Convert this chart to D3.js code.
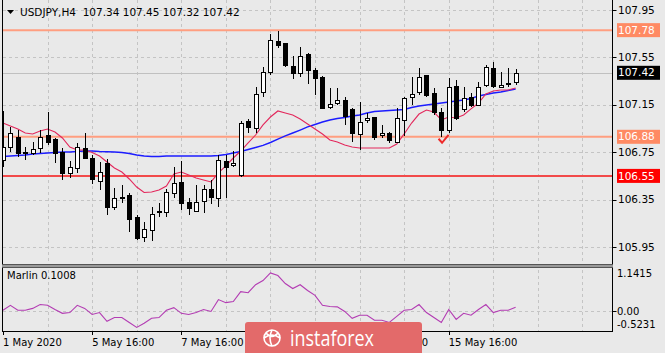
<!DOCTYPE html>
<html>
<head>
<meta charset="utf-8">
<script src="https://cdn.jsdelivr.net/npm/d3@7"></script>
<style>
  body { margin: 0; background: #e9e9e9; }
  svg { display: block; font-family: "DejaVu Sans", sans-serif; }
</style>
</head>
<body>
<svg id="chart" width="665" height="353"></svg>
<script>
// H4 bars, index 0 = 1 May 16:00
var opens = [
  106.684,106.794,106.879,106.752,106.743,106.786,106.895,106.861,106.752,106.575,
  106.617,106.786,106.701,106.507,106.659,106.288,106.364,106.389,106.203,106.035,
  106.094,106.245,106.245,106.406,106.499,106.330,106.254,106.338,106.439,106.364,
  106.676,106.642,106.558,107.013,106.954,107.258,107.427,107.688,107.672,107.477,
  107.418,107.579,107.444,107.385,107.131,107.165,107.191,107.115,106.904,107.022,
  107.047,106.895,106.912,106.836,107.022,107.216,107.258,107.401,107.250,107.089,
  106.937,107.309,107.115,107.216,107.148,107.317,107.461,107.300,107.334,107.340];
var highs = [
  107.098,106.963,106.937,106.794,106.836,106.937,107.089,106.870,106.786,106.676,
  106.828,106.912,106.726,106.667,106.693,106.448,106.473,106.406,106.220,106.161,
  106.288,106.321,106.439,106.625,106.676,106.364,106.473,106.473,106.516,106.726,
  106.726,106.760,107.013,107.030,107.300,107.469,107.747,107.773,107.672,107.562,
  107.638,107.587,107.461,107.390,107.292,107.292,107.216,107.123,107.174,107.081,
  107.050,106.980,106.920,107.123,107.216,107.385,107.461,107.405,107.292,107.123,
  107.376,107.359,107.300,107.250,107.342,107.486,107.511,107.427,107.461,107.450];
var lows = [
  106.625,106.752,106.710,106.684,106.726,106.743,106.811,106.659,106.516,106.532,
  106.575,106.701,106.482,106.431,106.220,106.262,106.321,106.077,106.010,105.992,
  106.001,106.203,106.203,106.364,106.262,106.220,106.245,106.237,106.313,106.288,
  106.364,106.625,106.541,106.912,106.912,107.216,107.401,107.629,107.469,107.368,
  107.385,107.326,107.233,107.120,107.115,107.148,106.980,106.836,106.769,106.996,
  106.853,106.870,106.828,106.828,106.887,107.148,107.233,107.216,107.064,106.879,
  106.912,107.022,107.089,107.131,107.140,107.300,107.292,107.292,107.300,107.320];
var closes = [
  106.794,106.912,106.743,106.743,106.777,106.879,106.836,106.743,106.575,106.625,
  106.794,106.701,106.524,106.583,106.288,106.364,106.372,106.186,106.026,106.102,
  106.229,106.250,106.414,106.490,106.321,106.279,106.330,106.439,106.372,106.684,
  106.625,106.659,106.996,106.963,107.241,107.427,107.697,107.655,107.486,107.418,
  107.562,107.444,107.376,107.123,107.157,107.191,107.055,106.912,107.005,107.039,
  106.879,106.912,106.853,107.039,107.208,107.241,107.385,107.233,107.089,106.937,
  107.300,107.039,107.208,107.148,107.300,107.469,107.309,107.317,107.326,107.420];

// moving averages
var maSlow = [
  106.714,106.718,106.722,106.726,106.735,106.739,106.743,106.748,106.752,106.752,
  106.756,106.760,106.760,106.756,106.754,106.752,106.748,106.739,106.726,106.718,
  106.714,106.714,106.718,106.718,106.718,106.718,106.718,106.718,106.718,106.722,
  106.731,106.743,106.756,106.773,106.790,106.807,106.832,106.861,106.887,106.912,
  106.937,106.963,106.984,107.005,107.022,107.034,107.043,107.055,107.064,107.081,
  107.093,107.098,107.102,107.106,107.110,107.127,107.140,107.148,107.157,107.165,
  107.174,107.182,107.191,107.203,107.224,107.237,107.250,107.258,107.271,107.283];
var maFast = [
  106.996,106.971,106.946,106.912,106.904,106.929,106.946,106.920,106.870,106.794,
  106.769,106.769,106.748,106.718,106.667,106.617,106.583,106.524,106.456,106.410,
  106.414,106.431,106.465,106.566,106.583,106.558,106.532,106.516,106.499,106.575,
  106.634,106.701,106.760,106.828,106.895,106.980,107.047,107.098,107.081,107.064,
  107.030,106.988,106.946,106.904,106.853,106.836,106.811,106.794,106.786,106.786,
  106.786,106.786,106.786,106.819,106.904,106.996,107.072,107.106,107.089,107.022,
  107.047,107.039,107.064,107.115,107.165,107.241,107.267,107.275,107.275,107.292];

// Marlin oscillator
var marlin = [
  0.02,0.15,0.02,0.02,0.07,0.17,0.15,0.04,-0.06,-0.04,
  0.15,0.07,-0.09,-0.04,-0.27,-0.17,-0.17,-0.30,-0.43,-0.32,
  -0.19,-0.17,0.02,0.09,-0.06,-0.09,-0.04,0.04,-0.01,0.30,
  0.22,0.25,0.51,0.48,0.69,0.80,1.00,0.93,0.72,0.59,
  0.69,0.54,0.41,0.15,0.12,0.11,-0.01,-0.19,-0.11,-0.11,
  -0.24,-0.24,-0.30,-0.14,0.02,0.04,0.17,-0.04,-0.17,-0.30,
  0.04,-0.22,-0.06,-0.11,0.04,0.17,-0.04,0.02,0.02,0.10];

var priceTicks = [107.95, 107.55, 107.15, 106.75, 106.35, 105.95];
var timeBars = [0, 12, 24, 36, 48, 60];
var timeLabels = ["1 May 2020", "5 May 16:00", "7 May 16:00", "11 May 16:00", "13 May 16:00", "15 May 16:00"];
var levelPrices = [107.78, 106.88, 106.55];
var levelColors = ["#ff9e80", "#ff9e80", "#f24a4a"];
var levelBoxColors = ["#ff8a63", "#ff8a63", "#ff0000"];
var lastPrice = 107.42;
var marlinRange = [-0.5231, 1.1415];
var marlinName = "Marlin 0.1008";
var header = "USDJPY,H4  107.34 107.45 107.32 107.42";
var checkMark = {bar: 59.3, price: 106.855};

var svg = d3.select("#chart");
var axisX = 612.5, mainBottom = 264, indTop = 267.5, indBottom = 331;

var x = d3.scaleLinear().domain([-0.4, 82]).range([0, 612.2]);
var y = d3.scaleLinear().domain([105.95, 107.95]).range([247, 10]);
var yi = d3.scaleLinear().domain(marlinRange).range([indBottom, indTop]);

svg.append("rect").attr("width", 665).attr("height", 353).attr("fill", "#e9e9e9");

svg.append("defs").append("clipPath").attr("id", "clipMain")
  .append("rect").attr("x", 2.5).attr("y", 0).attr("width", axisX - 2.5).attr("height", mainBottom);

// grid
var gridBars = d3.range(6, 82, 6);
var grid = svg.append("g").attr("stroke", "#c4c4c4").attr("stroke-dasharray", "3,3").attr("shape-rendering", "crispEdges");
grid.selectAll(".vg").data(gridBars).enter().append("line")
  .attr("x1", function(d) { return Math.round(x(d)) + 0.5; })
  .attr("x2", function(d) { return Math.round(x(d)) + 0.5; })
  .attr("y1", 0).attr("y2", indBottom);
grid.selectAll(".hg").data(priceTicks).enter().append("line")
  .attr("x1", 2.5).attr("x2", axisX)
  .attr("y1", function(d) { return Math.round(y(d)) + 0.5; })
  .attr("y2", function(d) { return Math.round(y(d)) + 0.5; });
grid.append("line").attr("x1", 2.5).attr("x2", axisX)
  .attr("y1", Math.round(yi(0)) + 0.5).attr("y2", Math.round(yi(0)) + 0.5);

// bid line
svg.append("line").attr("x1", 2.5).attr("x2", axisX)
  .attr("y1", Math.round(y(lastPrice)) + 0.5).attr("y2", Math.round(y(lastPrice)) + 0.5)
  .attr("stroke", "#c0c0c0");

var main = svg.append("g").attr("clip-path", "url(#clipMain)");

// horizontal levels
main.selectAll(".lvl").data(levelPrices).enter().append("line")
  .attr("x1", 0).attr("x2", axisX)
  .attr("y1", function(d) { return y(d); })
  .attr("y2", function(d) { return y(d); })
  .attr("stroke", function(d, i) { return levelColors[i]; })
  .attr("stroke-width", 2);

// moving averages
var lineGen = d3.line().x(function(d, i) { return x(i); }).y(function(d) { return y(d); });
main.append("path").attr("d", lineGen(maSlow)).attr("fill", "none").attr("stroke", "#1c1cff").attr("stroke-width", 1.4);
main.append("path").attr("d", lineGen(maFast)).attr("fill", "none").attr("stroke", "#e3285c").attr("stroke-width", 1.1);

// candles
var bars = d3.range(opens.length);
var candles = main.append("g").attr("shape-rendering", "crispEdges");
candles.selectAll(".wick").data(bars).enter().append("line")
  .attr("x1", function(i) { return Math.round(x(i)) + 0.5; })
  .attr("x2", function(i) { return Math.round(x(i)) + 0.5; })
  .attr("y1", function(i) { return y(highs[i]); })
  .attr("y2", function(i) { return y(lows[i]); })
  .attr("stroke", "#000");
candles.selectAll(".body").data(bars).enter().append("rect")
  .attr("x", function(i) { return Math.round(x(i)) - 2 + 0.5; })
  .attr("width", 4)
  .attr("y", function(i) { return Math.round(y(Math.max(opens[i], closes[i]))) + 0.5; })
  .attr("height", function(i) { return Math.max(1, Math.round(Math.abs(y(opens[i]) - y(closes[i])))); })
  .attr("fill", function(i) { return closes[i] >= opens[i] ? "#fff" : "#000"; })
  .attr("stroke", "#000");

// check mark
var cx = x(checkMark.bar), cy = y(checkMark.price);
main.append("path")
  .attr("d", "M" + (cx - 5) + "," + (cy - 1) + " L" + (cx - 1.5) + "," + (cy + 3) + " L" + (cx + 5) + "," + (cy - 5))
  .attr("fill", "none").attr("stroke", "#ee2a2a").attr("stroke-width", 2);

// marlin
var mLine = d3.line().x(function(d, i) { return x(i); }).y(function(d) { return yi(d); });
svg.append("path").attr("d", mLine(marlin)).attr("fill", "none").attr("stroke", "#b33cb3").attr("stroke-width", 1.1);

// frames
var frame = svg.append("g").attr("shape-rendering", "crispEdges");
frame.append("line").attr("x1", 2.5).attr("x2", 2.5).attr("y1", 0).attr("y2", indBottom + 0.5).attr("stroke", "#000");
frame.append("line").attr("x1", axisX).attr("x2", axisX).attr("y1", 0).attr("y2", indBottom + 0.5).attr("stroke", "#000");
frame.append("rect").attr("x", 2).attr("y", mainBottom).attr("width", axisX - 2).attr("height", 3).attr("fill", "#9a9a9a");
frame.append("line").attr("x1", 2).attr("x2", axisX).attr("y1", mainBottom + 0.5).attr("y2", mainBottom + 0.5).attr("stroke", "#555");
frame.append("line").attr("x1", 2).attr("x2", axisX).attr("y1", mainBottom + 3.5).attr("y2", mainBottom + 3.5).attr("stroke", "#555");
frame.append("line").attr("x1", 2).attr("x2", axisX + 0.5).attr("y1", indBottom + 0.5).attr("y2", indBottom + 0.5).attr("stroke", "#000");

// price axis
var pa = svg.append("g");
pa.selectAll(".pt").data(priceTicks).enter().append("line")
  .attr("x1", axisX).attr("x2", axisX + 4)
  .attr("y1", function(d) { return Math.round(y(d)) + 0.5; })
  .attr("y2", function(d) { return Math.round(y(d)) + 0.5; })
  .attr("stroke", "#000");
pa.selectAll(".pl").data(priceTicks).enter().append("text")
  .attr("x", 618).attr("y", function(d) { return y(d); }).attr("dy", "0.35em")
  .attr("font-size", 10.5).attr("fill", "#000")
  .text(function(d) { return d.toFixed(2); });

// level boxes
var boxes = levelPrices.concat([lastPrice]);
var boxFill = levelBoxColors.concat(["#000"]);
pa.selectAll(".bx").data(boxes).enter().append("rect")
  .attr("x", 617).attr("width", 43)
  .attr("y", function(d) { return y(d) - 7; }).attr("height", 14)
  .attr("fill", function(d, i) { return boxFill[i]; });
pa.selectAll(".bt").data(boxes).enter().append("text")
  .attr("x", 618).attr("y", function(d) { return y(d); }).attr("dy", "0.35em")
  .attr("font-size", 10.5).attr("fill", "#fff")
  .text(function(d) { return d.toFixed(2); });

// marlin axis labels
svg.append("text").attr("x", 617).attr("y", indTop + 9).attr("font-size", 10).text(marlinRange[1].toFixed(4));
svg.append("text").attr("x", 617).attr("y", yi(0)).attr("dy", "0.35em").attr("font-size", 10).text("0.00");
svg.append("text").attr("x", 617).attr("y", indBottom - 3).attr("font-size", 10).text(marlinRange[0].toFixed(4));
svg.append("line").attr("x1", axisX).attr("x2", axisX + 4).attr("y1", Math.round(yi(0)) + 0.5).attr("y2", Math.round(yi(0)) + 0.5).attr("stroke", "#000");
svg.append("text").attr("x", 7).attr("y", indTop + 11).attr("font-size", 10).text(marlinName);

// time axis
var ta = svg.append("g");
ta.selectAll(".tt").data(timeBars).enter().append("line")
  .attr("x1", function(d) { return Math.round(x(d)) + 0.5; })
  .attr("x2", function(d) { return Math.round(x(d)) + 0.5; })
  .attr("y1", indBottom).attr("y2", indBottom + 4).attr("stroke", "#000");
ta.selectAll(".tl").data(timeBars).enter().append("text")
  .attr("x", function(d) { return Math.max(3, x(d)); })
  .attr("y", 346).attr("font-size", 10)
  .text(function(d, i) { return timeLabels[i]; });

// header
svg.append("path").attr("d", "M7,10 L14,10 L10.5,14 Z").attr("fill", "#000");
svg.append("text").attr("x", 20).attr("y", 16).attr("font-size", 10.5).attr("xml:space", "preserve").text(header);

// watermark
var wm = svg.append("g");
wm.append("rect").attr("x", 245).attr("y", 322).attr("width", 177).attr("height", 40).attr("rx", 3).attr("fill", "#e36a6a");
var lg = wm.append("g").attr("transform", "translate(272,338)").attr("fill", "none").attr("stroke", "#fff").attr("stroke-width", 1.6);
lg.append("circle").attr("r", 8);
lg.append("path").attr("d", "M-8,0 Q0,-6 8,0 M-6,-5 Q0,2 6,-5 M0,-8 Q-4,0 0,8");
wm.append("text").attr("x", 290).attr("y", 346).attr("font-size", 21).attr("font-family", "Open Sans, sans-serif")
  .attr("fill", "#fff").attr("textLength", 84).attr("lengthAdjust", "spacingAndGlyphs").text("instaforex");
</script>
</body>
</html>
